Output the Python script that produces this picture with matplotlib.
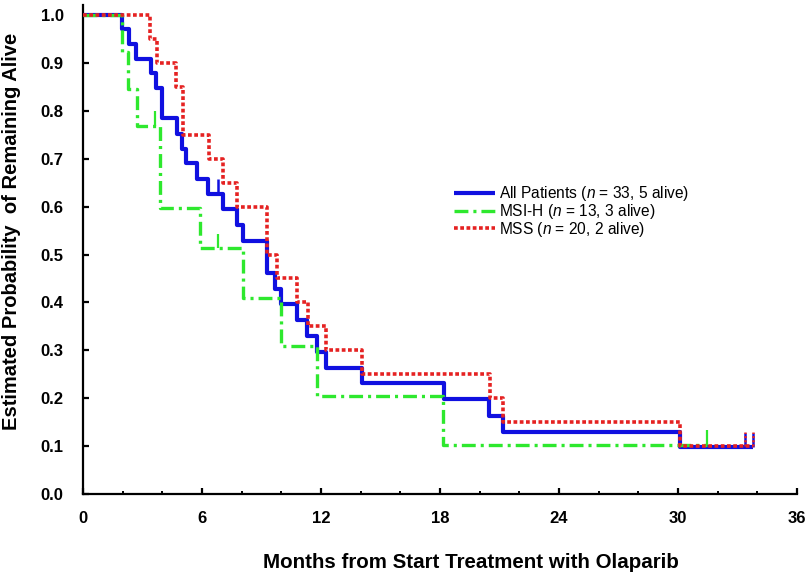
import matplotlib
matplotlib.use("Agg")
import matplotlib.pyplot as plt

plt.rcParams['font.family'] = ['Liberation Sans', 'DejaVu Sans']
plt.rcParams['mathtext.fontset'] = 'custom'
plt.rcParams['mathtext.it'] = 'Liberation Sans:italic'
plt.rcParams['mathtext.rm'] = 'Liberation Sans'
plt.rcParams['lines.scale_dashes'] = False

# ---- data ----
all_t = [0, 1.95, 2.32, 2.67, 3.43, 3.68, 3.97, 4.72, 4.97, 5.19, 5.73, 6.32, 7.07, 7.75,
         8.08, 9.26, 9.68, 10.0, 10.77, 11.3, 11.78, 12.25, 14.05, 18.2, 20.45, 21.2, 30.1, 33.8]
all_s = [1.0, 0.970, 0.939, 0.909, 0.879, 0.848, 0.785, 0.752, 0.720, 0.690, 0.658, 0.627,
         0.594, 0.561, 0.528, 0.462, 0.429, 0.396, 0.363, 0.330, 0.297, 0.264, 0.231, 0.198,
         0.163, 0.130, 0.098, 0.098]
all_cens_t = [6.82, 33.4, 33.8]
all_cens_s = [0.627, 0.098, 0.098]

msi_t = [0, 1.95, 2.29, 2.7, 3.9, 5.9, 8.08, 10.0, 11.78, 18.14, 31.45]
msi_s = [1.0, 0.923, 0.846, 0.769, 0.598, 0.513, 0.410, 0.308, 0.205, 0.103, 0.103]
msi_cens_t = [3.63, 6.82, 31.45]
msi_cens_s = [0.769, 0.513, 0.103]

mss_t = [0, 3.4, 3.75, 4.68, 5.02, 6.35, 7.07, 7.75, 9.26, 9.76, 10.77, 11.36, 12.25,
         14.05, 20.5, 21.2, 30.1, 33.8]
mss_s = [1.0, 0.95, 0.90, 0.85, 0.75, 0.70, 0.65, 0.60, 0.50, 0.45, 0.40, 0.35, 0.30,
         0.25, 0.20, 0.15, 0.10, 0.10]
mss_cens_t = [33.4, 33.8]
mss_cens_s = [0.10, 0.10]

labels = ["All Patients ($n$ = 33, 5 alive)", "MSI-H ($n$ = 13, 3 alive)", "MSS ($n$ = 20, 2 alive)"]
x_ticks = [0, 6, 12, 18, 24, 30, 36]
y_ticks = [0.0, 0.1, 0.2, 0.3, 0.4, 0.5, 0.6, 0.7, 0.8, 0.9, 1.0]

c_blue = '#1010e0'
c_green = '#2ee82e'
c_red = '#e52222'
tick_h = 0.03

fig = plt.figure(figsize=(8.08, 5.81), dpi=100)
ax = fig.add_axes([0.1027, 0.1497, 0.8837, 0.841])

green_ls = (0, (10, 3.6, 2.2, 3.6))
red_ls = (0, (2.7, 1.8))

l1, = ax.step(all_t, all_s, where='post', color=c_blue, lw=3.0, solid_capstyle='butt', zorder=3)
ax.vlines(all_cens_t, all_cens_s, [s + tick_h for s in all_cens_s], color=c_blue, lw=1.8, zorder=3)
l2, = ax.step(msi_t, msi_s, where='post', color=c_green, lw=2.4, linestyle=green_ls, dash_capstyle='butt', zorder=4)
ax.vlines(msi_cens_t, msi_cens_s, [s + tick_h for s in msi_cens_s], color=c_green, lw=1.6, zorder=4)
l3, = ax.step(mss_t, mss_s, where='post', color=c_red, lw=2.6, linestyle=red_ls, dash_capstyle='butt', zorder=5)
ax.vlines(mss_cens_t, mss_cens_s, [s + tick_h for s in mss_cens_s], color=c_red, lw=1.8,
          linestyle=(0, (1.5, 1.5)), zorder=5)

ax.set_xlim(0, 36)
ax.set_ylim(0, 1.02)
ax.set_xticks(x_ticks)
ax.set_xticks([2, 4, 8, 10, 14, 16, 20, 22, 26, 28, 32, 34], minor=True)
ax.set_yticks(y_ticks)
ax.set_yticklabels([f"{v:.1f}" for v in y_ticks])
for s in ['top', 'right']:
    ax.spines[s].set_visible(False)
for s in ['left', 'bottom']:
    ax.spines[s].set_linewidth(1.6)
ax.tick_params(axis='both', which='major', direction='in', length=4, width=1.6, labelsize=12)
ax.tick_params(axis='x', which='major', pad=12)
ax.tick_params(axis='y', which='major', pad=14)
ax.tick_params(axis='x', which='minor', direction='in', length=2.5, width=1.4)
for lab in ax.get_xticklabels() + ax.get_yticklabels():
    lab.set_fontweight('bold')

fig.text(471 / 808, 1 - 563 / 581, "Months from Start Treatment with Olaparib",
         ha='center', va='center', fontsize=14.8, fontweight='bold')
fig.text(12 / 808, 1 - 231 / 581, "Estimated Probability  of Remaining Alive",
         ha='center', va='center', rotation=90, fontsize=14.5, fontweight='bold')

ax.legend([l1, l2, l3], labels, loc='upper left', bbox_to_anchor=(0.52, 0.634),
          frameon=False, fontsize=11.2, handlelength=2.6, handletextpad=0.25,
          labelspacing=-0.08, borderpad=0, borderaxespad=0)

fig.savefig("out.png", dpi=100)
